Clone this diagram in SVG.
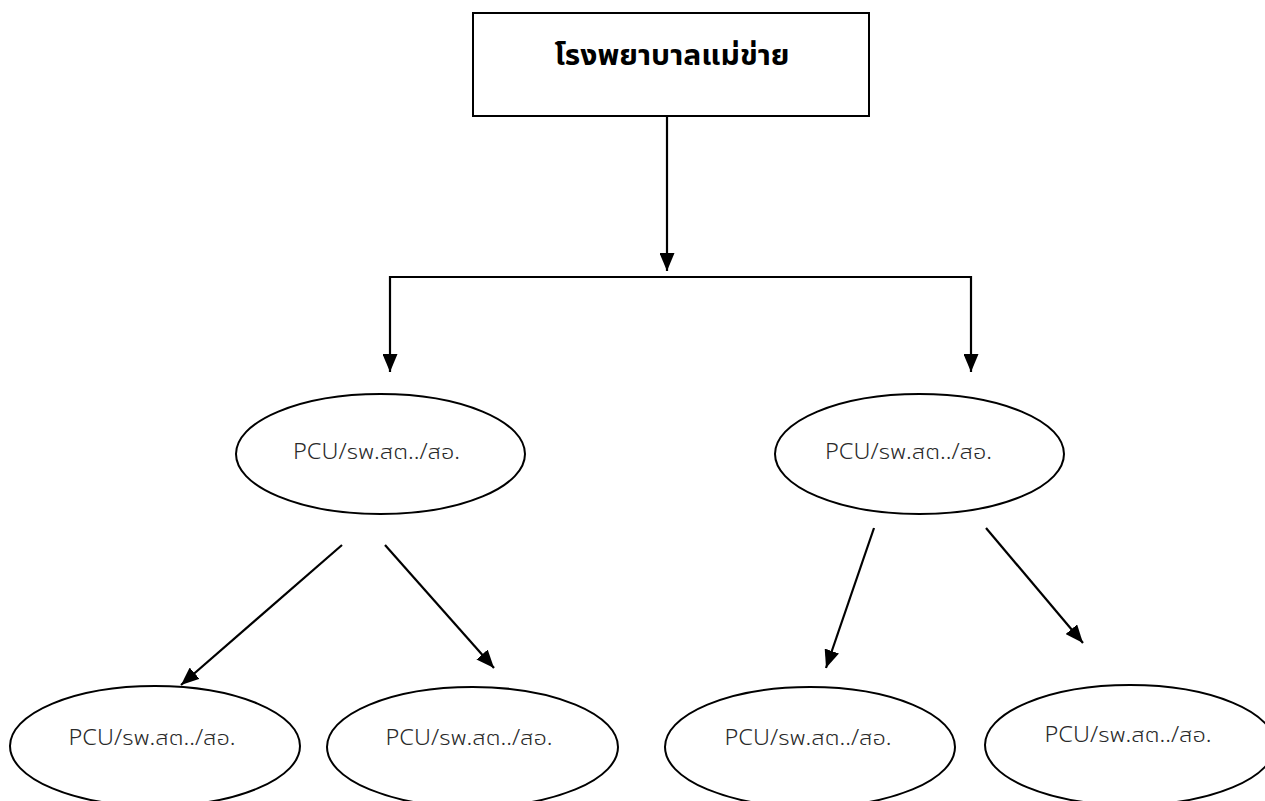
<svg xmlns="http://www.w3.org/2000/svg" width="1265" height="801" viewBox="0 0 1265 801">
  <defs>
    <marker id="arrow" markerUnits="userSpaceOnUse" markerWidth="18" markerHeight="15" refX="18" refY="7.5" orient="auto">
      <path d="M0,0 L18,7.5 L0,15 Z" fill="#000"/>
    </marker>
    <style>
      .box { fill: #fff; stroke: #000; stroke-width: 2; }
      .node { fill: #fff; stroke: #000; stroke-width: 2; }
      .title { font-family: "Noto Sans Thai UI", "Noto Sans Thai", "Noto Sans", "Liberation Sans", sans-serif; font-size: 30px; font-weight: bold; fill: #000; text-anchor: middle; }
      .label { font-family: "Noto Sans Thai UI", "Noto Sans Thai", "Noto Sans", "Liberation Sans", sans-serif; font-size: 21px; font-weight: 300; fill: #2a2a2a; text-anchor: middle; }
      .edge { fill: none; stroke: #000; stroke-width: 2.2; }
      .arrow { marker-end: url(#arrow); }
    </style>
  </defs>
  <rect width="1265" height="801" fill="#fff"/>

  <!-- connectors -->
  <g id="connectors">
    <line class="edge arrow" x1="667" y1="116" x2="667" y2="271"/>
    <path class="edge arrow" d="M667,277 H390 V372"/>
    <path class="edge arrow" d="M667,277 H971 V372"/>
    <line class="edge arrow" x1="342" y1="545" x2="181" y2="685"/>
    <line class="edge arrow" x1="385" y1="545" x2="494" y2="668"/>
    <line class="edge arrow" x1="874" y1="528" x2="826" y2="668"/>
    <line class="edge arrow" x1="986" y1="528" x2="1083" y2="643"/>
  </g>

  <!-- top box -->
  <g id="hospital">
    <rect class="box" x="473" y="13" width="396" height="103"/>
    <text class="title" x="672" y="65" textLength="235" lengthAdjust="spacingAndGlyphs">โรงพยาบาลแม่ข่าย</text>
  </g>

  <!-- second level -->
  <g id="unit-left">
    <ellipse class="node" cx="380.5" cy="454" rx="144.5" ry="60"/>
    <text class="label" x="376.5" y="459" textLength="167" lengthAdjust="spacingAndGlyphs">PCU/รพ.สต../สอ.</text>
  </g>
  <g id="unit-right">
    <ellipse class="node" cx="919.5" cy="454" rx="144.5" ry="60"/>
    <text class="label" x="908.5" y="459" textLength="167" lengthAdjust="spacingAndGlyphs">PCU/รพ.สต../สอ.</text>
  </g>

  <!-- third level -->
  <g id="unit-left-a">
    <ellipse class="node" cx="155" cy="746" rx="145" ry="60"/>
    <text class="label" x="152" y="745" textLength="167" lengthAdjust="spacingAndGlyphs">PCU/รพ.สต../สอ.</text>
  </g>
  <g id="unit-left-b">
    <ellipse class="node" cx="472.5" cy="747" rx="145.5" ry="60"/>
    <text class="label" x="469" y="745" textLength="167" lengthAdjust="spacingAndGlyphs">PCU/รพ.สต../สอ.</text>
  </g>
  <g id="unit-right-a">
    <ellipse class="node" cx="810" cy="747" rx="145" ry="60"/>
    <text class="label" x="808" y="745" textLength="167" lengthAdjust="spacingAndGlyphs">PCU/รพ.สต../สอ.</text>
  </g>
  <g id="unit-right-b">
    <ellipse class="node" cx="1130" cy="745" rx="145" ry="60"/>
    <text class="label" x="1128" y="742" textLength="167" lengthAdjust="spacingAndGlyphs">PCU/รพ.สต../สอ.</text>
  </g>
</svg>
